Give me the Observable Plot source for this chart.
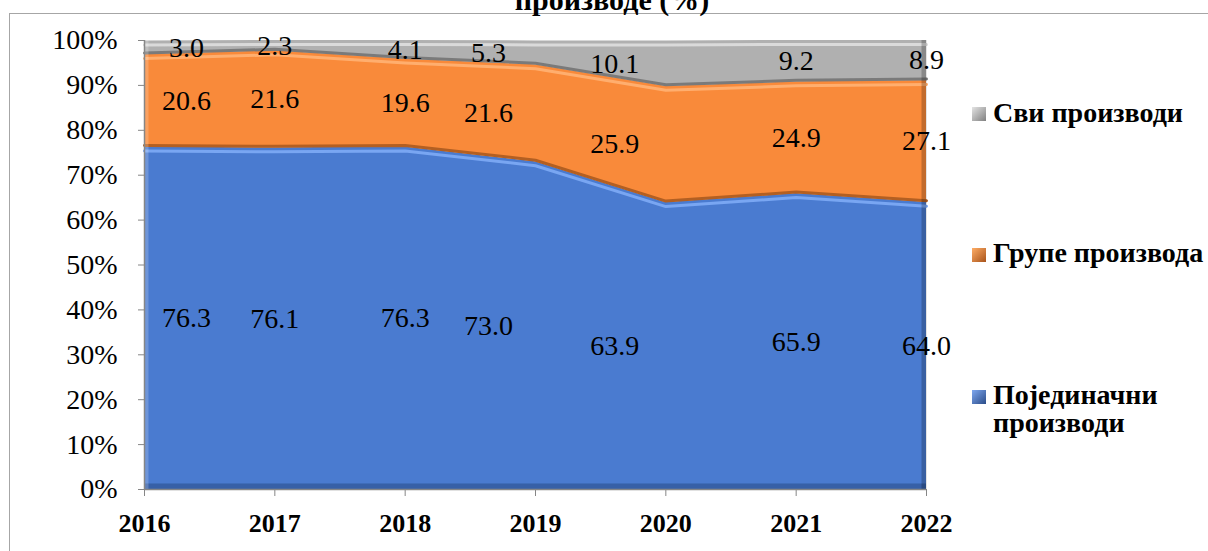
<!DOCTYPE html>
<html>
<head>
<meta charset="utf-8">
<script src="https://cdn.jsdelivr.net/npm/d3@7"></script>
<script src="https://cdn.jsdelivr.net/npm/@observablehq/plot@0.6"></script>
<style>
  html, body { margin: 0; padding: 0; background: #fff; }
  body { width: 1208px; height: 551px; position: relative; overflow: hidden; font-family: "Liberation Serif", serif; }
  #frame { position: absolute; left: 9px; top: 13px; width: 1300px; height: 700px; border-left: 1.5px solid #a6a6a6; border-top: 1.5px solid #a6a6a6; }
  #title { position: absolute; left: 412px; width: 400px; text-align: center; top: -15px; font-weight: bold; font-size: 30px; line-height: 30px; color: #000; white-space: nowrap; }
  #chart { position: absolute; left: 0; top: 0; }
  .leg { position: absolute; font-weight: bold; font-size: 28px; line-height: 28px; color: #000; white-space: nowrap; }
  .sw { position: absolute; width: 14px; height: 14px; }
</style>
</head>
<body>
<div id="frame"></div>
<div id="title">производе (%)</div>
<div id="chart"></div>
<div class="sw" style="left:972px; top:107px; background:linear-gradient(135deg,#e4e4e4,#808080);"></div>
<div class="leg" style="left:993px; top:99px;">Сви производи</div>
<div class="sw" style="left:972px; top:248px; background:linear-gradient(135deg,#ffad66,#a8531a);"></div>
<div class="leg" style="left:993px; top:239px;">Групе производа</div>
<div class="sw" style="left:972px; top:390px; background:linear-gradient(135deg,#7fa8f0,#2b4c88);"></div>
<div class="leg" style="left:993px; top:381px;">Појединачни<br>производи</div>
<script>
const years = [2016, 2017, 2018, 2019, 2020, 2021, 2022];
const individual = [76.3, 76.1, 76.3, 73.0, 63.9, 65.9, 64.0];
const groups = [20.6, 21.6, 19.6, 21.6, 25.9, 24.9, 27.1];
const allProducts = [3.0, 2.3, 4.1, 5.3, 10.1, 9.2, 8.9];
const seriesNames = ["Појединачни производи", "Групе производа", "Сви производи"];
const seriesValues = [individual, groups, allProducts];
const yTicks = [0, 10, 20, 30, 40, 50, 60, 70, 80, 90, 100];

const colors = ["#4a7bd0", "#f98a3a", "#b0b0b0"];
const highlight = ["#79a6f2", "#ffae6e", "#dadada"];
const shade = ["#2f5596", "#b35f22", "#7a7a7a"];

const rows = [];
years.forEach((year, i) => {
  let cum = 0;
  seriesNames.forEach((s, k) => {
    const v = seriesValues[k][i];
    rows.push({year, series: s, k, value: v, y1: cum, y2: cum + v, mid: cum + v / 2, label: v.toFixed(1)});
    cum += v;
  });
});
const upper = rows.filter(d => d.k > 0);

const font = "Liberation Serif";
const labelShift = {2016: 42, 2019: -47, 2020: -51};
const labelMarks = [0, 42, -47, -51].map(dx =>
  Plot.text(rows.filter(d => (labelShift[d.year] || 0) === dx), {
    x: "year", y: "mid", text: "label", dx,
    fontSize: 28, fontFamily: font, fill: "#000"
  })
);

const chart = Plot.plot({
  width: 1208,
  height: 551,
  marginLeft: 144,
  marginRight: 282,
  marginTop: 40,
  marginBottom: 62,
  style: {fontFamily: font, background: "transparent", overflow: "visible"},
  x: {domain: [2016, 2022]},
  y: {domain: [0, 100]},
  color: {domain: seriesNames, range: colors},
  marks: [
    Plot.areaY(rows, {x: "year", y1: "y1", y2: "y2", z: "series", fill: "series", curve: "linear"}),
    Plot.lineY(rows, {x: "year", y: "y2", z: "series", stroke: d => highlight[d.k], strokeWidth: 3, dy: 4}),
    Plot.lineY(upper, {x: "year", y: "y1", z: "series", stroke: d => shade[d.k], strokeWidth: 3, dy: -1.5}),
    Plot.ruleY([0], {stroke: shade[0], strokeWidth: 6, dy: -3, strokeOpacity: 0.7}),
    Plot.ruleX([2022], {y1: 0, y2: 100, stroke: "#000", strokeOpacity: 0.22, strokeWidth: 5, dx: -2.5}),
    Plot.ruleX([2016], {y1: 0, y2: 100, stroke: "#fff", strokeOpacity: 0.2, strokeWidth: 4, dx: 2}),
    ...labelMarks,
    Plot.axisY({ticks: yTicks, tickFormat: d => d + "%", tickSize: 6, tickPadding: 21, fontSize: 28, fontFamily: font, stroke: "#868686", fill: "#000", label: null}),
    Plot.axisX({ticks: years, tickFormat: d => String(d), tickSize: 7, tickPadding: 17, fontSize: 26, fontWeight: "bold", fontFamily: font, stroke: "#868686", fill: "#000", label: null}),
    Plot.ruleX([2016], {y1: 0, y2: 100, stroke: "#868686", strokeWidth: 1.5}),
    Plot.ruleY([0], {stroke: "#868686", strokeWidth: 1.5})
  ]
});
document.getElementById("chart").appendChild(chart);
</script>
</body>
</html>
